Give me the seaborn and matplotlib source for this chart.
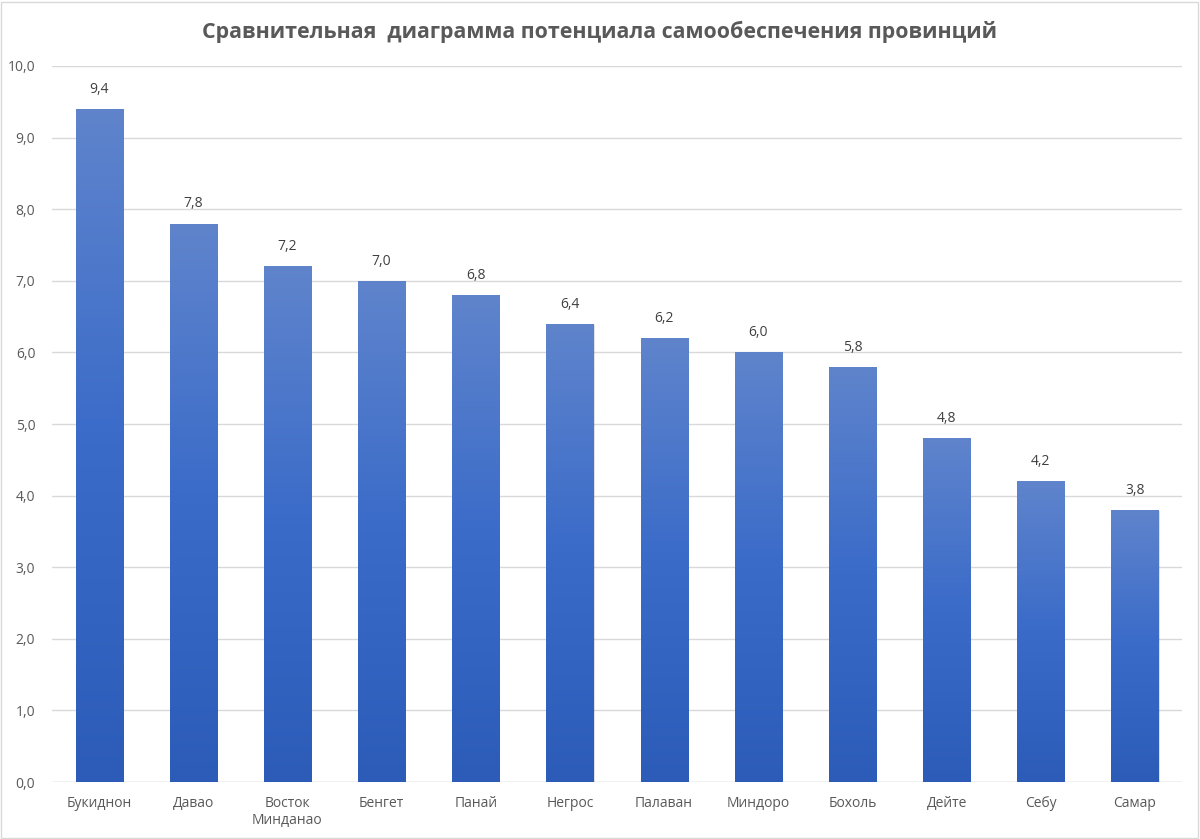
import numpy as np
import pandas as pd
import matplotlib
matplotlib.use('Agg')
import matplotlib.pyplot as plt
import seaborn as sns
from matplotlib.colors import LinearSegmentedColormap
from matplotlib.patches import Rectangle

provinces = ['Букиднон', 'Давао', 'Восток\nМинданао', 'Бенгет', 'Панай', 'Негрос',
             'Палаван', 'Миндоро', 'Бохоль', 'Дейте', 'Себу', 'Самар']
scores = [9.4, 7.8, 7.2, 7.0, 6.8, 6.4, 6.2, 6.0, 5.8, 4.8, 4.2, 3.8]
y_ticks = [0, 1, 2, 3, 4, 5, 6, 7, 8, 9, 10]

df = pd.DataFrame({'province': provinces, 'score': scores})

sns.set_theme(style='white')
plt.rcParams['font.family'] = ['Open Sans', 'DejaVu Sans']

fig = plt.figure(figsize=(12, 8.39), dpi=100)
ax = fig.add_axes([52 / 1200, 1 - 782 / 839, 1130 / 1200, 716 / 839])

sns.barplot(data=df, x='province', y='score', width=0.5, color='#4472c4', ax=ax)

# gradient fill per bar, lighter at top
cmap = LinearSegmentedColormap.from_list('grad', ['#2c5cb8', '#3a6bc9', '#5f84cc'])
grad = np.linspace(0, 1, 256).reshape(-1, 1)
for bar in ax.patches:
    x0, w, h = bar.get_x(), bar.get_width(), bar.get_height()
    bar.set_facecolor('none')
    bar.set_edgecolor('none')
    shadow = Rectangle((x0 + 0.012, 0), w, h - 0.02, facecolor='#000000', alpha=0.12,
                       zorder=1.5, linewidth=0)
    ax.add_patch(shadow)
    im = ax.imshow(grad, extent=[x0, x0 + w, 0, h], origin='lower', cmap=cmap,
                   aspect='auto', zorder=2)
    clip = Rectangle((x0, 0), w, h, transform=ax.transData, facecolor='none', edgecolor='none')
    ax.add_patch(clip)
    im.set_clip_path(clip)
    ax.text(x0 + w / 2, h + 0.17, f'{h:.1f}'.replace('.', ','), ha='center', va='bottom',
            fontsize=10, color='#404040')

ax.set_xlim(-0.5, len(provinces) - 0.5)
ax.set_ylim(0, 10)
ax.set_yticks(y_ticks)
ax.set_yticklabels([f'{v:.1f}'.replace('.', ',') for v in y_ticks])
ax.yaxis.grid(True, color='#d9d9d9', linewidth=1)
ax.set_axisbelow(True)
for s in ax.spines.values():
    s.set_visible(False)
ax.axhline(0, color='#d9d9d9', linewidth=1, zorder=1)
ax.tick_params(axis='both', length=0, labelsize=10, labelcolor='#595959', pad=12)
ax.tick_params(axis='x', pad=10)
ax.set_xlabel('')
ax.set_ylabel('')

fig.text(0.5, 1 - 32 / 839, 'Сравнительная  диаграмма потенциала самообеспечения провинций',
         ha='center', va='center', fontsize=15.4, fontweight='bold', color='#595959')

fig.patches.append(Rectangle((0.001, 0.001), 0.997, 0.997, transform=fig.transFigure,
                             fill=False, edgecolor='#d9d9d9', linewidth=1))

fig.savefig('out.png', dpi=100, facecolor='white')
